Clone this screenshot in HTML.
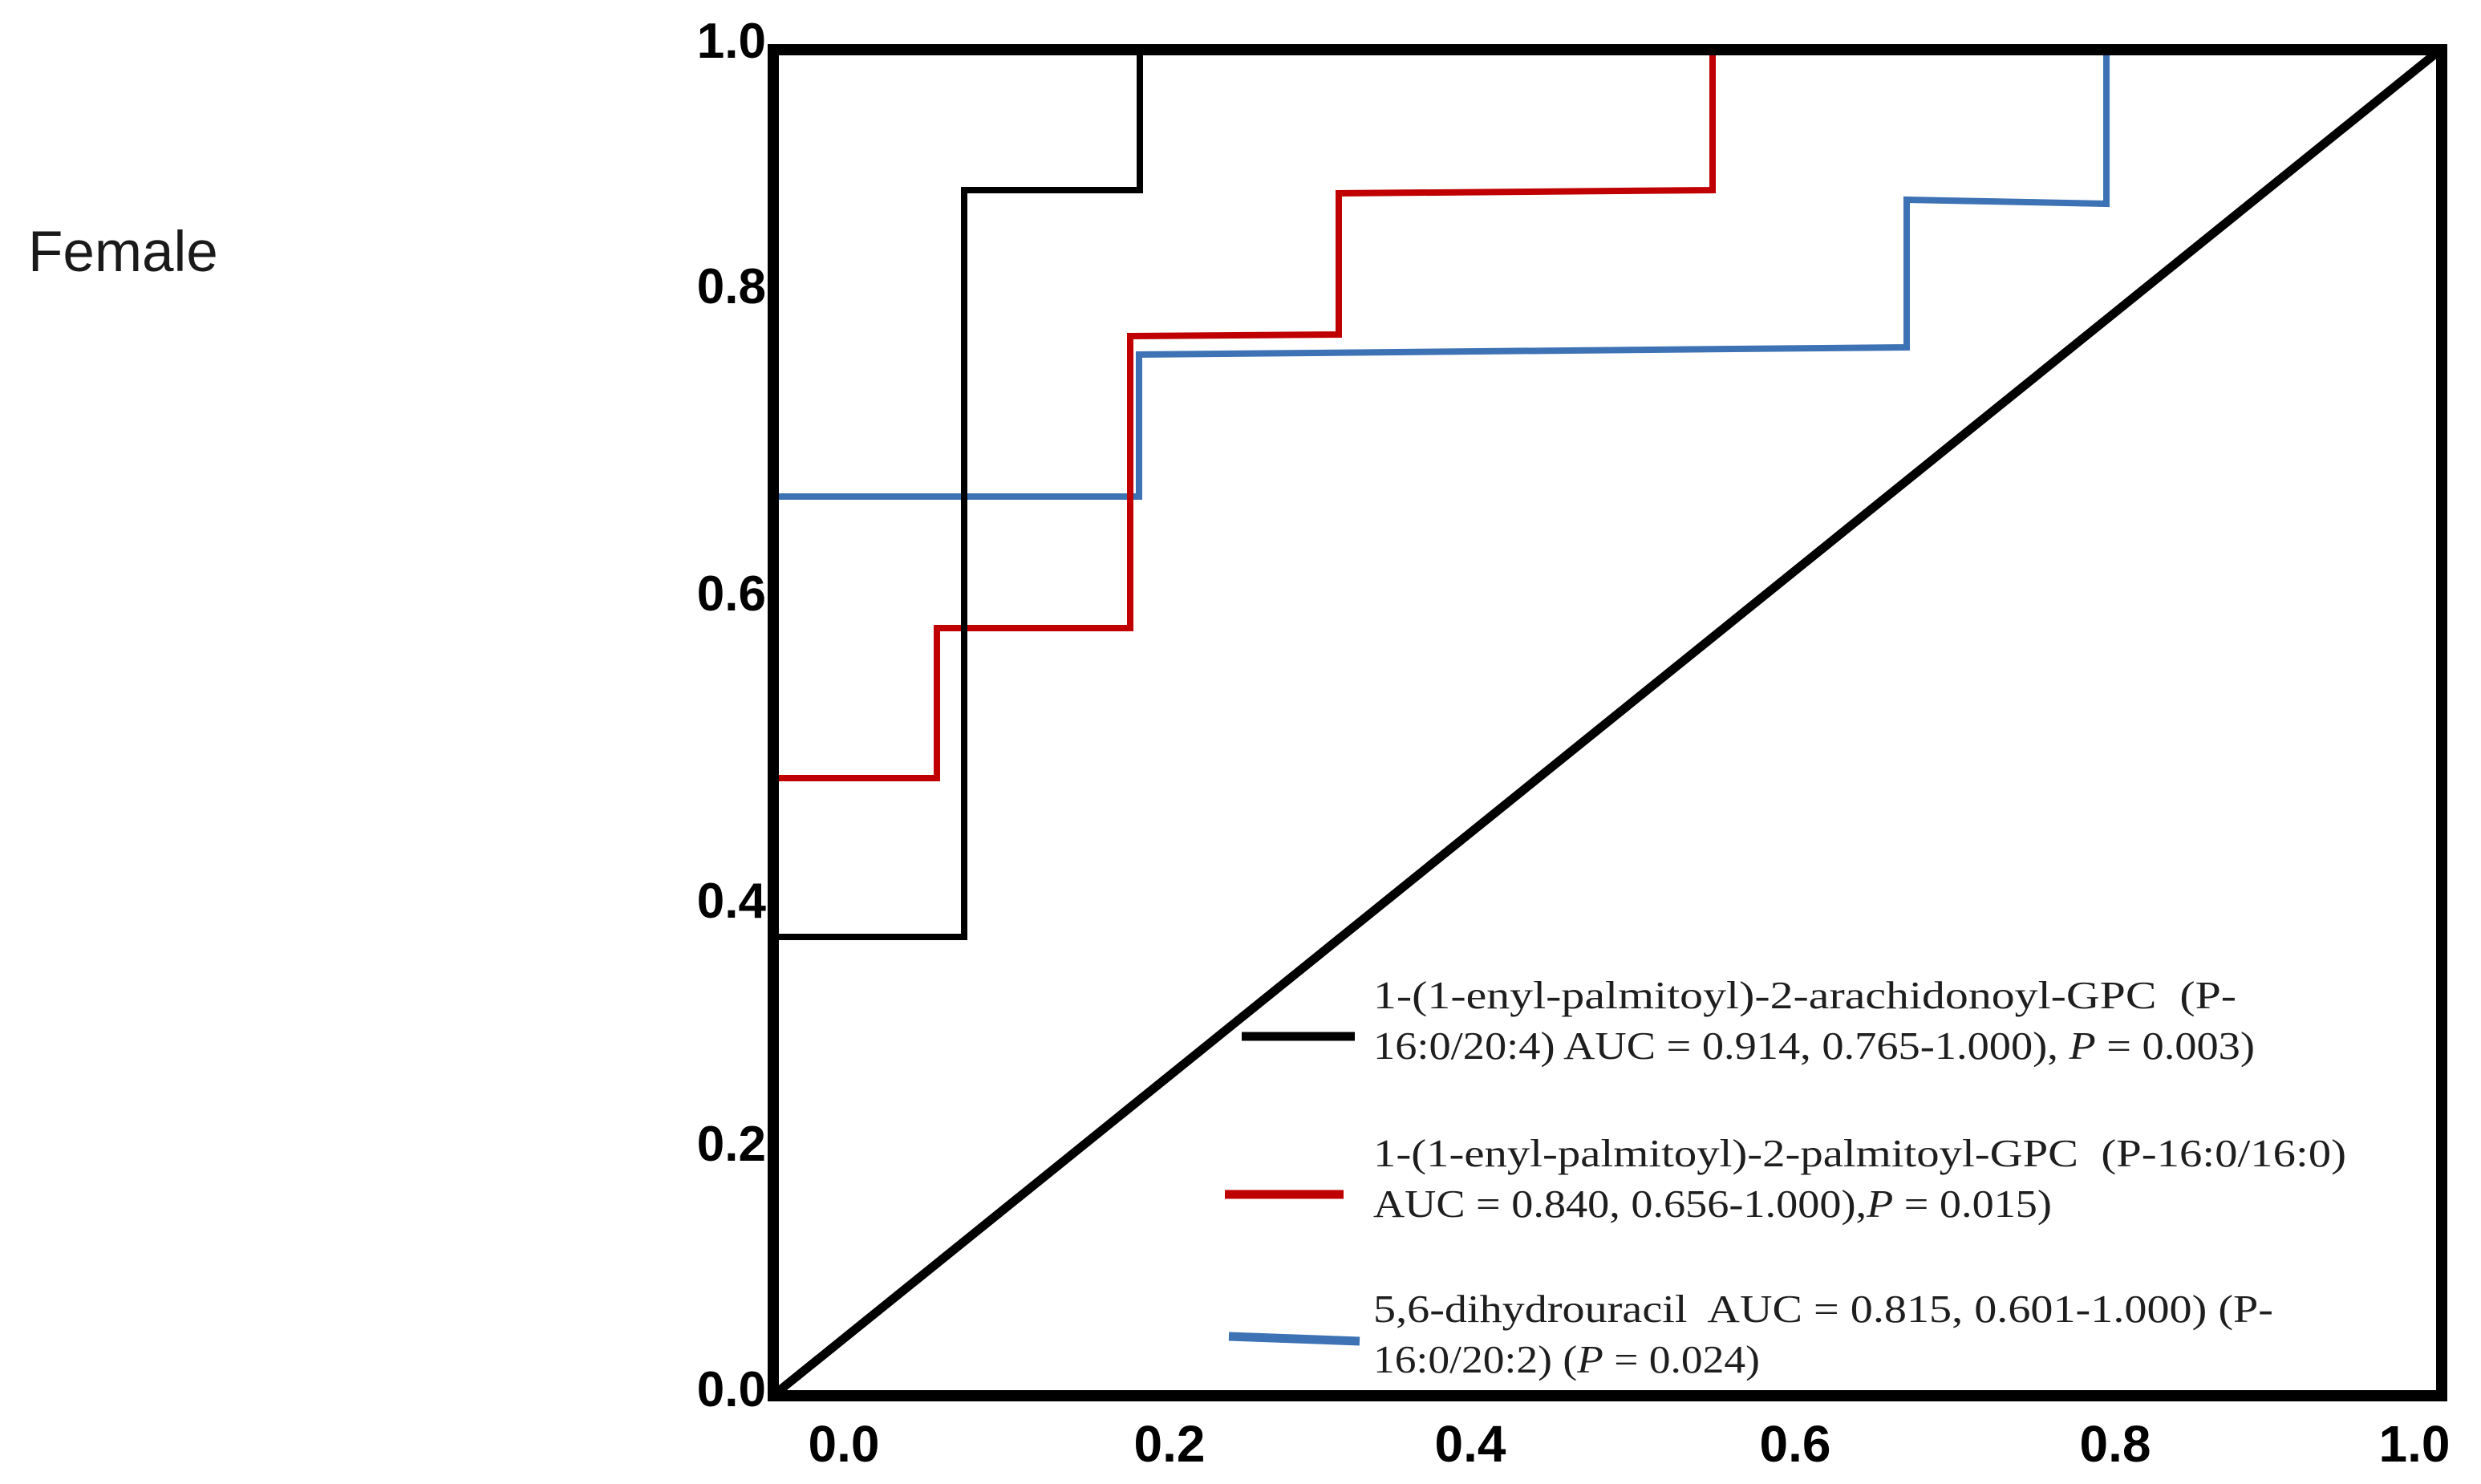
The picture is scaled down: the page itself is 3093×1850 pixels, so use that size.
<!DOCTYPE html>
<html>
<head>
<meta charset="utf-8">
<style>
  html, body { margin: 0; padding: 0; background: #ffffff; }
  svg { display: block; }
  .tick { font-family: "Liberation Sans", Arial, sans-serif; font-weight: bold; fill: #000; }
  .leg { font-family: "Liberation Serif", "Times New Roman", serif; font-size: 49px; fill: #1e1e1e; }
</style>
</head>
<body>
<svg width="3093" height="1850" viewBox="0 0 3093 1850" xmlns="http://www.w3.org/2000/svg">
  <rect x="0" y="0" width="3093" height="1850" fill="#ffffff"/>

  <!-- Female label -->
  <text x="35" y="338" font-family="Liberation Sans, Arial, sans-serif" font-size="71" fill="#1a1a1a">Female</text>

  <!-- Diagonal reference line -->
  <line x1="966" y1="1738" x2="3040" y2="64" stroke="#000" stroke-width="11"/>

  <!-- Blue curve -->
  <polyline fill="none" stroke="#3d72b4" stroke-width="8" stroke-linejoin="miter"
    points="965,619 1420,619 1420,442 2377,433 2377,249 2626,254 2626,62"/>

  <!-- Red curve -->
  <polyline fill="none" stroke="#c00000" stroke-width="8" stroke-linejoin="miter"
    points="965,970 1168,970 1168,783 1409,783 1409,419 1669,417 1669,241 2135,237 2135,62"/>

  <!-- Black curve -->
  <polyline fill="none" stroke="#000" stroke-width="8" stroke-linejoin="miter"
    points="965,1168 1202,1168 1202,237 1421,237 1421,62"/>

  <!-- Plot frame -->
  <rect x="964" y="62" width="2080" height="1678" fill="none" stroke="#000" stroke-width="14"/>

  <!-- Y tick labels -->
  <text class="tick" font-size="62" x="955" y="72" text-anchor="end">1.0</text>
  <text class="tick" font-size="62" x="955" y="378" text-anchor="end">0.8</text>
  <text class="tick" font-size="62" x="955" y="761" text-anchor="end">0.6</text>
  <text class="tick" font-size="62" x="955" y="1144" text-anchor="end">0.4</text>
  <text class="tick" font-size="62" x="955" y="1447" text-anchor="end">0.2</text>
  <text class="tick" font-size="62" x="955" y="1753" text-anchor="end">0.0</text>

  <!-- X tick labels -->
  <text class="tick" font-size="64" x="1052" y="1822" text-anchor="middle">0.0</text>
  <text class="tick" font-size="64" x="1458" y="1822" text-anchor="middle">0.2</text>
  <text class="tick" font-size="64" x="1833" y="1822" text-anchor="middle">0.4</text>
  <text class="tick" font-size="64" x="2238" y="1822" text-anchor="middle">0.6</text>
  <text class="tick" font-size="64" x="2637" y="1822" text-anchor="middle">0.8</text>
  <text class="tick" font-size="64" x="3010" y="1822" text-anchor="middle">1.0</text>

  <!-- Legend swatches -->
  <line x1="1548" y1="1292" x2="1689" y2="1292" stroke="#000" stroke-width="11"/>
  <line x1="1527" y1="1489" x2="1675" y2="1489" stroke="#c00000" stroke-width="11"/>
  <line x1="1532" y1="1666" x2="1695" y2="1672" stroke="#3d72b4" stroke-width="11"/>

  <!-- Legend text -->
  <text class="leg" x="1712" y="1257" textLength="1076" lengthAdjust="spacingAndGlyphs" xml:space="preserve">1-(1-enyl-palmitoyl)-2-arachidonoyl-GPC  (P-</text>
  <text class="leg" x="1712" y="1320" textLength="1099" lengthAdjust="spacingAndGlyphs" xml:space="preserve">16:0/20:4) AUC = 0.914, 0.765-1.000), <tspan font-style="italic">P</tspan> = 0.003)</text>

  <text class="leg" x="1712" y="1454" textLength="1213" lengthAdjust="spacingAndGlyphs" xml:space="preserve">1-(1-enyl-palmitoyl)-2-palmitoyl-GPC  (P-16:0/16:0)</text>
  <text class="leg" x="1712" y="1517" textLength="846" lengthAdjust="spacingAndGlyphs" xml:space="preserve">AUC = 0.840, 0.656-1.000),<tspan font-style="italic">P</tspan> = 0.015)</text>

  <text class="leg" x="1712" y="1648" textLength="1122" lengthAdjust="spacingAndGlyphs" xml:space="preserve">5,6-dihydrouracil  AUC = 0.815, 0.601-1.000) (P-</text>
  <text class="leg" x="1712" y="1711" textLength="482" lengthAdjust="spacingAndGlyphs" xml:space="preserve">16:0/20:2) (<tspan font-style="italic">P</tspan> = 0.024)</text>
</svg>
</body>
</html>
